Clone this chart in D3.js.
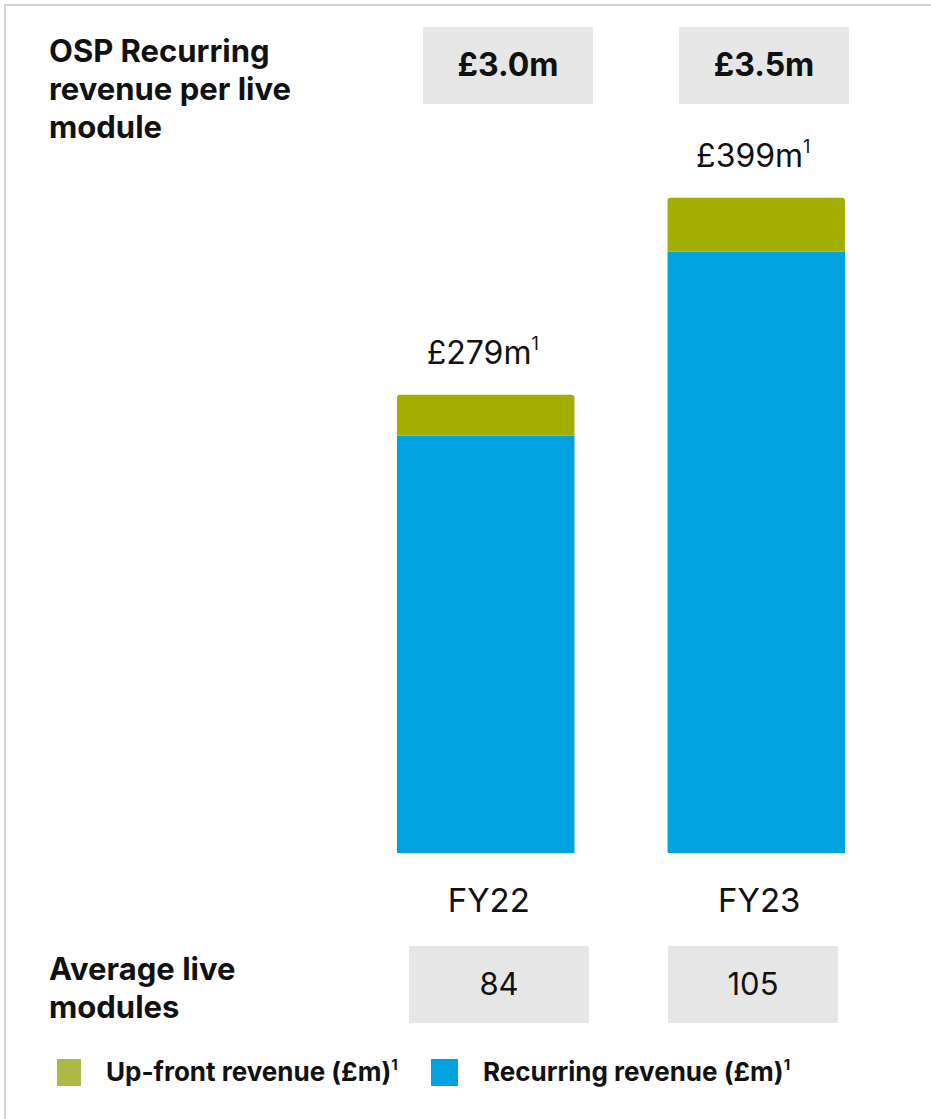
<!DOCTYPE html>
<html>
<head>
<meta charset="utf-8">
<script src="https://cdn.jsdelivr.net/npm/d3@7"></script>
<style>
  html, body { margin: 0; padding: 0; background: #fff; }
  svg { display: block; font-family: Inter, "Noto Sans", sans-serif; }
</style>
</head>
<body>
<svg id="chart" width="931" height="1119"></svg>
<script>
// Financial years shown
const years = ["FY22", "FY23"];
// Revenue split (£m)
const recurring = [254, 366];
const upfront = [25, 33];
// Totals shown above each bar (£m)
const totals = [279, 399];
// Recurring revenue per live module
const perModule = ["£3.0m", "£3.5m"];
// Average live modules
const liveModules = [84, 105];
// Legend entries
const legendItems = ["Up-front revenue (£m)", "Recurring revenue (£m)"];

const colors = { upfront: "#a2ae00", recurring: "#00a2e0", legendUp: "#adb947", box: "#e6e6e6", text: "#111" };

const svg = d3.select("#chart");

// Panel border (top and left edges)
svg.append("path")
  .attr("d", "M5,1119 L5,5 L931,5")
  .attr("fill", "none")
  .attr("stroke", "#d3d3d3")
  .attr("stroke-width", 2);

const x = d3.scaleBand().domain(years).range([397, 845]).paddingInner(0.344).paddingOuter(0);
const y = d3.scaleLinear().domain([0, 400]).range([853, 196]);

// Stacked data
const stackData = years.map((yr, i) => ({ year: yr, recurring: recurring[i], upfront: upfront[i] }));
const series = d3.stack().keys(["recurring", "upfront"])(stackData);

// Rounded-top path for the upper segment
function topRounded(x0, y0, w, h, r) {
  return `M${x0},${y0 + h} L${x0},${y0 + r} Q${x0},${y0} ${x0 + r},${y0} L${x0 + w - r},${y0} Q${x0 + w},${y0} ${x0 + w},${y0 + r} L${x0 + w},${y0 + h} Z`;
}

series.forEach(s => {
  const g = svg.append("g");
  g.selectAll("path").data(s).join("path")
    .attr("d", d => {
      const x0 = x(d.data.year), w = x.bandwidth();
      const y0 = y(d[1]), h = y(d[0]) - y(d[1]);
      return s.key === "upfront" ? topRounded(x0, y0, w, h, 3) : `M${x0},${y0}h${w}v${h}h${-w}Z`;
    })
    .attr("fill", colors[s.key]);
});

const cx = d => x(d) + x.bandwidth() / 2;

// Total labels above bars
const totalLbl = svg.append("g").selectAll("text").data(years).join("text")
  .attr("x", d => cx(d) - 3)
  .attr("y", (d, i) => y(totals[i]) - 31)
  .attr("text-anchor", "middle")
  .attr("font-size", 32)
  .attr("fill", colors.text);
totalLbl.append("tspan").text((d, i) => `£${totals[i]}m`);
totalLbl.append("tspan").text("1").attr("font-size", 18).attr("dy", -14);

// Category labels
svg.append("g").selectAll("text").data(years).join("text")
  .attr("x", d => cx(d) + 3)
  .attr("y", 912)
  .attr("text-anchor", "middle")
  .attr("font-size", 33)
  .attr("fill", colors.text)
  .text(d => d);

// Row label helper
function rowLabel(lines, x0, yFirst, lh) {
  const t = svg.append("text").attr("font-size", 31).attr("font-weight", 700).attr("fill", colors.text);
  lines.forEach((l, i) => t.append("tspan").attr("x", x0).attr("y", yFirst + i * lh).text(l));
}

// Top row: recurring revenue per live module
rowLabel(["OSP Recurring", "revenue per live", "module"], 49, 62, 38);
const topBoxX = [423, 679];
const topBoxes = svg.append("g").selectAll("g").data(years).join("g");
topBoxes.append("rect")
  .attr("x", (d, i) => topBoxX[i]).attr("y", 27)
  .attr("width", 170).attr("height", 77)
  .attr("fill", colors.box);
topBoxes.append("text")
  .attr("x", (d, i) => topBoxX[i] + 85).attr("y", 76)
  .attr("text-anchor", "middle")
  .attr("font-size", 32).attr("font-weight", 700)
  .attr("fill", colors.text)
  .text((d, i) => perModule[i]);

// Bottom row: average live modules
rowLabel(["Average live", "modules"], 49, 980, 38);
const botBoxX = [409, 668];
const botBoxW = [180, 170];
const botBoxes = svg.append("g").selectAll("g").data(years).join("g");
botBoxes.append("rect")
  .attr("x", (d, i) => botBoxX[i]).attr("y", 946)
  .attr("width", (d, i) => botBoxW[i]).attr("height", 77)
  .attr("fill", colors.box);
botBoxes.append("text")
  .attr("x", (d, i) => botBoxX[i] + botBoxW[i] / 2).attr("y", 995)
  .attr("text-anchor", "middle")
  .attr("font-size", 31)
  .attr("fill", colors.text)
  .text((d, i) => liveModules[i]);

// Legend
const legendX = [57, 431];
const legendColors = [colors.legendUp, colors.recurring];
const leg = svg.append("g").selectAll("g").data(legendItems).join("g")
  .attr("transform", (d, i) => `translate(${legendX[i]},1059)`);
leg.append("rect").attr("width", (d, i) => i === 0 ? 24 : 27).attr("height", 27)
  .attr("fill", (d, i) => legendColors[i]);
const legText = leg.append("text")
  .attr("x", (d, i) => i === 0 ? 49 : 52).attr("y", 22)
  .attr("font-size", 26).attr("font-weight", 700)
  .attr("fill", colors.text);
legText.append("tspan").text(d => d);
legText.append("tspan").text("1").attr("font-size", 15).attr("dy", -11);
</script>
</body>
</html>
